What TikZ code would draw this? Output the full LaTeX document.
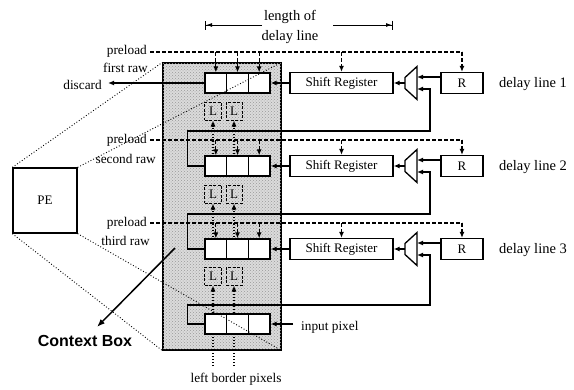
\documentclass[tikz,border=0pt]{standalone}
\usepackage{fontspec}
\setmainfont{Liberation Serif}
\newfontfamily\ctxfont{Liberation Sans}
\usetikzlibrary{arrows.meta,calc,patterns}
\begin{document}
\begin{tikzpicture}[x=1pt,y=-1pt,
  lbl/.style={font=\fontsize{13.3}{15}\selectfont, inner sep=0pt},
  dlbl/.style={font=\fontsize{14.5}{16}\selectfont, inner sep=0pt},
  cell/.style={draw, line width=1.3pt, fill=white, minimum width=21.67pt, minimum height=20pt, inner sep=0pt},
  sreg/.style={draw, line width=1.3pt, fill=white, minimum width=103pt, minimum height=21pt, inner sep=0pt, font=\fontsize{13}{15}\selectfont},
  rbox/.style={sreg, minimum width=42pt},
  lbox/.style={draw, dashed, dash pattern=on 3pt off 1.5pt, line width=1pt, minimum height=18pt, inner sep=0pt, font=\fontsize{13}{15}\selectfont},
  wire/.style={line width=1.3pt},
  arr/.style={wire, -{Latex[length=6pt,width=5pt]}},
  dline/.style={line width=1.1pt, dash pattern=on 4pt off 2pt},
  darr/.style={dline, -{Latex[length=6pt,width=5pt]}},
  dotarr/.style={line width=1.1pt, dotted, -{Latex[length=6pt,width=5pt]}},
  lenarr/.style={line width=1pt, -{Latex[length=6pt,width=4pt,sep=0pt] Bar[width=9pt]}},
  zoomline/.style={line width=0.9pt, dotted},
]
\useasboundingbox (0,0) rectangle (574,389);

% context box
\node[draw, line width=1.3pt, fill=black!14, minimum width=118pt, minimum height=287pt, inner sep=0pt] (cb) at (222,206.5) {};
\fill[pattern=crosshatch dots, pattern color=black!40] (cb.north west) rectangle (cb.south east);
\draw[line width=1.3pt] (cb.north west) rectangle (cb.south east);

% L boxes
\foreach \r/\y in {1/111,2/194,3/276}{
  \node[lbox, minimum width=17pt] (La\r) at (213,\y) {L};
  \node[lbox, minimum width=16pt] (Lb\r) at (234,\y) {L};
}

% dotted left-border arrows
\coordinate (lbpA) at (213,366);
\coordinate (lbpB) at (234,366);
\draw[dotarr] (lbpA) -- (La3.south);
\draw[dotarr] (lbpB) -- (Lb3.south);
\draw[dotarr] (La2.south |- 0,240) -- (La2.south);
\draw[dotarr] (Lb2.south |- 0,240) -- (Lb2.south);
\draw[dotarr] (La1.south |- 0,157) -- (La1.south);
\draw[dotarr] (Lb1.south |- 0,157) -- (Lb1.south);

% cells
\foreach \r/\y in {1/83,2/166,3/249,4/324}{
  \node[cell] (a\r) at (215.83,\y) {};
  \node[cell] (b\r) at (237.5,\y) {};
  \node[cell] (c\r) at (259.17,\y) {};
}

% delay line hardware
\foreach \r/\y in {1/83,2/166,3/249}{
  \node[sreg] (s\r) at (341.5,\y) {Shift Register};
  \node[rbox] (R\r) at (462,\y) {R};
  \draw[wire, fill=white] (405,\y-5.5) -- (417,\y-16.5) -- (417,\y+16.5) -- (405,\y+5.5) -- cycle;
  \coordinate (m\r o) at (405,\y);
  \coordinate (m\r a) at (417,\y-6);
  \coordinate (m\r b) at (417,\y+6);
  \draw[arr] (R\r.west |- m\r a) -- (m\r a);
  \draw[arr] (m\r o) -- (s\r.east);
  \draw[arr] (s\r.west) -- (c\r.east);
}

% feedback loops
\coordinate (f1) at (430,131);
\coordinate (f2) at (430,214);
\coordinate (f3) at (430,305);
\draw[arr] (a2.west) -- ++(-17,0) |- (f1) |- (m1b);
\draw[arr] (a3.west) -- ++(-17,0) |- (f2) |- (m2b);
\draw[arr] (a4.west) -- ++(-17,0) |- (f3) |- (m3b);

% preload lines
\foreach \r/\y in {1/52,2/140,3/223}{
  \coordinate (p\r) at (150,\y);
  \draw[dline] (p\r) -- (R\r.north |- p\r);
  \draw[darr] (a\r.north |- p\r) -- (a\r.north);
  \draw[darr] (b\r.north |- p\r) -- (b\r.north);
  \draw[darr] (c\r.north |- p\r) -- (c\r.north);
  \draw[darr] (s\r.north |- p\r) -- (s\r.north);
  \draw[darr] (R\r.north |- p\r) -- (R\r.north);
}

% labels left
\node[lbl, anchor=east] at (147,51) {preload};
\node[lbl, anchor=east] at (148,68) {first raw};
\node[lbl, anchor=east] at (147,140) {preload};
\node[lbl, anchor=east] at (156,159) {second raw};
\node[lbl, anchor=east] at (147,223) {preload};
\node[lbl, anchor=east] at (150,241) {third raw};

% discard
\coordinate (disc) at (108,83);
\draw[arr] (a1.west) -- (disc);
\node[lbl, anchor=east] at (102,85) {discard};

% input pixel
\coordinate (inp) at (293,324);
\draw[arr] (inp) -- (c4.east);
\node[lbl, anchor=west] at (301,327) {input pixel};

% delay line labels
\node[dlbl, anchor=west] at (499,84) {delay line 1};
\node[dlbl, anchor=west] at (499,167) {delay line 2};
\node[dlbl, anchor=west] at (499,250) {delay line 3};

% length of delay line
\node[dlbl] (len1) at (290,17) {length of};
\node[dlbl] (len2) at (290,37) {delay line};
\coordinate (lenL) at (205,25);
\coordinate (lenR) at (393,25);
\draw[lenarr] (262,25) -- (lenL);
\draw[lenarr] (333,25) -- (lenR);

% left border pixels
\node[lbl] at (236,379) {left border pixels};

% PE and zoom lines
\node[draw, line width=1.3pt, minimum width=64pt, minimum height=65pt, inner sep=0pt, font=\fontsize{13}{15}\selectfont] (pe) at (45,200.5) {PE};
\draw[zoomline] (pe.north west) -- (cb.north west);
\draw[zoomline] (pe.north east) -- (cb.north east);
\draw[zoomline] (pe.south west) -- (cb.south west);
\draw[zoomline] (pe.south east) -- (cb.south east);

% Context box label
\node[font=\ctxfont\bfseries\fontsize{16}{18}\selectfont, inner sep=0pt] (ctx) at (85,341) {Context Box};
\coordinate (ctxs) at (175,248);
\coordinate (ctxe) at (97,327);
\draw[line width=1.5pt, -{Latex[length=8pt,width=6pt]}] (ctxs) -- (ctxe);
\end{tikzpicture}
\end{document}
